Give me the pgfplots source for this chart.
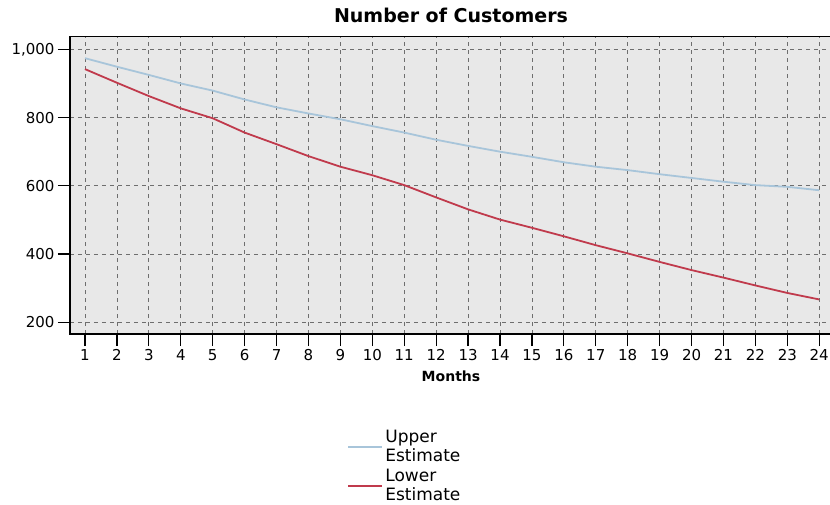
\documentclass[border=0pt]{standalone}
\usepackage{fontspec}
\setmainfont{DejaVu Sans}
\usepackage{pgfplots}
\pgfplotsset{compat=1.18}

\definecolor{upperc}{HTML}{A8C5DA}
\definecolor{lowerc}{HTML}{C03A4C}
\definecolor{plotbg}{HTML}{E8E8E8}
\definecolor{gridc}{HTML}{6E6E6E}

\begin{document}
\begin{tikzpicture}[x=1pt,y=1pt]
\useasboundingbox (0,0) rectangle (830,504);
\begin{axis}[
    at={(70pt,170pt)}, anchor=south west,
    scale only axis, width=762pt, height=297.3pt,
    xmin=0.53, xmax=24.4, ymin=165.7, ymax=1037,
    xtick={1,...,24}, ytick={200,400,600,800,1000},
    /pgf/number format/assume math mode=true,
    /pgf/number format/1000 sep={,},
    ticklabel style={font=\fontsize{15}{17}\selectfont},
    tick pos=left, tick align=outside,
    major tick length=12pt,
    tick style={black, line width=1.2pt},
    axis line style={black, line width=1.4pt},
    axis background/.style={fill=plotbg},
    grid=major,
    grid style={gridc, dash pattern=on 4pt off 4pt, line width=0.8pt},
    title={Number of Customers},
    title style={font=\bfseries\fontsize{19}{22}\selectfont, at={(0.5,1)}, anchor=base, yshift=7.7pt},
    xlabel={Months},
    xlabel style={font=\bfseries\fontsize{14}{16}\selectfont, yshift=-3pt},
    legend style={draw=none, fill=none, at={(0.36,-0.31)}, anchor=north west,
        font=\fontsize{17}{19}\selectfont, nodes={align=left}, row sep=2pt},
    legend cell align=left,
    legend image code/.code={\draw[#1] (0pt,0pt) -- (34pt,0pt);},
]
\addplot[upperc, line width=1.8pt] coordinates {
    (1,974) (2,949) (3,925) (4,900) (5,879) (6,853) (7,830) (8,812)
    (9,795) (10,775) (11,756) (12,735) (13,717) (14,700) (15,685) (16,669)
    (17,656) (18,646) (19,634) (20,623) (21,612) (22,602) (23,597) (24,587)
};
\addlegendentry{Upper\\Estimate}
\addplot[lowerc, line width=1.8pt] coordinates {
    (1,942) (2,902) (3,863) (4,827) (5,798) (6,756) (7,722) (8,687)
    (9,656) (10,631) (11,602) (12,566) (13,531) (14,501) (15,477) (16,452)
    (17,426) (18,402) (19,377) (20,353) (21,331) (22,308) (23,286) (24,267)
};
\addlegendentry{Lower\\Estimate}
\end{axis}
\end{tikzpicture}
\end{document}
